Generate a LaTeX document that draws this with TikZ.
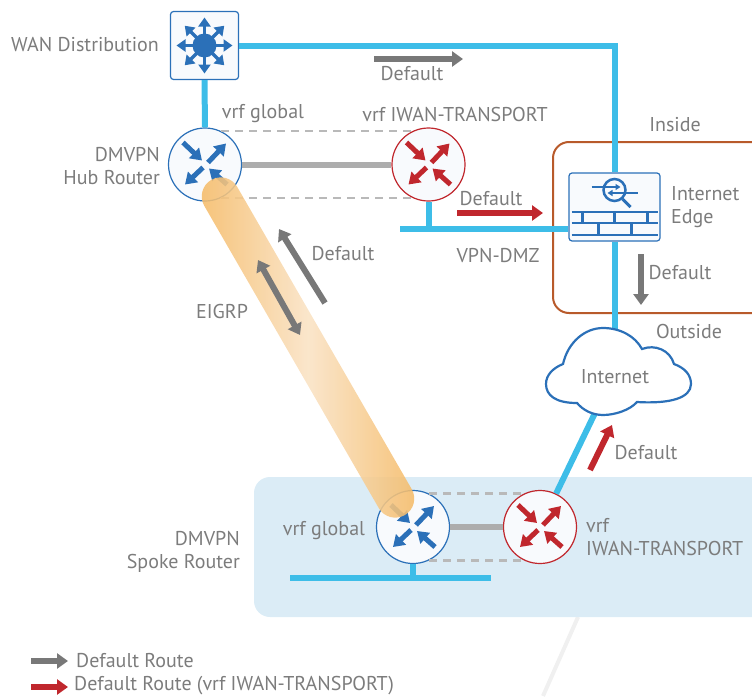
\documentclass[tikz,border=0pt]{standalone}
\usepackage{fontspec}
\setmainfont{PT Sans}
\usetikzlibrary{arrows.meta}
\definecolor{iconblue}{HTML}{2B70B8}
\definecolor{iconred}{HTML}{C0272D}
\definecolor{cablecol}{HTML}{3DBDE8}
\definecolor{linkgray}{HTML}{ADADAD}
\definecolor{routegray}{HTML}{787878}
\definecolor{txtgray}{HTML}{7C7C7C}
\definecolor{edgebrown}{HTML}{B85A2B}
\definecolor{areablue}{HTML}{DBECF6}
\definecolor{iconbg}{HTML}{F8FAFD}
\definecolor{tubeedge}{HTML}{F5B963}
\definecolor{tubemid}{HTML}{F9E2C4}
\begin{document}
\begin{tikzpicture}[x=1pt,y=-1pt,
        txt/.style={font=\fontsize{20}{23}\selectfont,text=txtgray,inner sep=0pt},
        router/.style={circle,draw,line width=1.2pt,fill=iconbg,minimum size=73pt,inner sep=0pt},
        box/.style={draw=iconblue,line width=1.2pt,fill=iconbg,rounded corners=3pt,inner sep=0pt},
        cable/.style={draw=cablecol,line width=6pt},
        link/.style={draw=linkgray,line width=6pt},
        dash link/.style={draw=linkgray!85,line width=2.6pt,dash pattern=on 8pt off 6pt},
        route/.style={-{Triangle[length=11pt,width=15pt]},line width=6pt,draw=routegray},
        route red/.style={route,draw=iconred},
        icon arrow/.style={-{Triangle[length=11pt,width=14pt]},line width=5pt},
        router icon/.pic={
            \draw[icon arrow] (-22,-22) -- (-3,-4);
            \draw[icon arrow] (3,-2) -- (21,-21);
            \draw[icon arrow] (-2,3) -- (-20,20);
            \draw[icon arrow] (22,20) -- (4,4);
        },
        wan icon/.pic={
            \fill[iconblue] (0,0) circle (12);
            \foreach \a in {0,45,...,315}
                \draw[iconblue,-{Triangle[length=9pt,width=12pt]},line width=3.5pt] (\a:8) -- (\a:28);
        },
        wall icon/.pic={
            \begin{scope}[draw=iconblue,line width=2.5pt]
                \foreach \y in {5,16,28}
                    \draw (-43,\y) -- (43,\y);
                \foreach \x in {-32,0,33}
                    \draw (\x,5) -- (\x,16);
                \foreach \x in {-16,17}
                    \draw (\x,16) -- (\x,28);
                \draw (0,-17) circle (11);
                \draw[line width=3pt] (8,-8) -- (16,0);
                \draw[-{Triangle[length=5pt,width=6pt]}] (-23,-20) -- (6,-20);
                \draw[-{Triangle[length=5pt,width=6pt]}] (23,-14) -- (-7,-14);
            \end{scope}
        }]

    \useasboundingbox (0,0) rectangle (752,696);

    \coordinate (farA) at (578,617);
    \coordinate (farB) at (543,696);
    \draw[draw=black!6,line width=4pt] (farA) -- (farB);

    \node[fill=areablue,rounded corners=16pt,minimum width=530pt,minimum height=140pt] (spoke area) at (519,547) {};
    \node[draw=edgebrown,line width=2pt,rounded corners=16pt,minimum width=240pt,minimum height=171pt] (inside) at (673,227.5) {};

    \node[box,minimum width=68pt,minimum height=68pt] (wan) at (204.5,45.5) {};
    \node[router,draw=iconblue] (hub) at (205,164.5) {};
    \node[router,draw=iconred] (hubred) at (428.5,164.5) {};
    \node[box,minimum width=91pt,minimum height=68pt] (wall) at (614.5,207) {};
    \node[router,draw=iconblue] (spoke) at (413,527) {};
    \node[router,draw=iconred] (spokered) at (540,527) {};

    \coordinate (dmzleft) at (400,229);
    \coordinate (cloudtop) at (614.5,330);
    \coordinate (cloudbot) at (595,413);
    \coordinate (barleft) at (290,578);
    \coordinate (barright) at (491,578);

    \draw[cable] (wan) -- (hub);
    \draw[cable] (wan.east) -| (wall.north);
    \draw[cable] (wall) -- (cloudtop);
    \draw[cable] (dmzleft) -- (dmzleft -| wall.west);
    \draw[cable] (hubred) -- (hubred |- dmzleft);
    \draw[cable] (cloudbot) -- (spokered);
    \draw[cable] (barleft) -- (barright);
    \draw[cable] (spoke) -- (spoke |- barleft);

    \draw[link] (hub) -- (hubred);
    \draw[link] (spoke) -- (spokered);
    \draw[dash link] (hub.64) -- (hubred.116);
    \draw[dash link] (hub.-64) -- (hubred.-116);
    \draw[dash link] (spoke.64) -- (spokered.116);
    \draw[dash link] (spoke.-64) -- (spokered.-116);

    \pic[color=iconblue] at (wan) {wan icon};
    \pic[color=iconblue] at (hub) {router icon};
    \pic[color=iconred] at (hubred) {router icon};
    \pic[color=iconblue] at (spoke) {router icon};
    \pic[color=iconred] at (spokered) {router icon};
    \pic at (wall) {wall icon};

    \draw[draw=iconblue,line width=2.2pt,fill=white]
        (563,364) .. controls (568,342) and (585,328) .. (603,328)
        .. controls (620,328) and (635,336) .. (642,349)
        .. controls (655,344) and (670,350) .. (674,364)
        .. controls (685,368) and (691,375) .. (691,384)
        .. controls (691,398) and (670,404) .. (637,402)
        .. controls (630,410) and (615,415) .. (603,415)
        .. controls (592,415) and (583,410) .. (577,403)
        .. controls (555,403) and (546,395) .. (546,384)
        .. controls (546,375) and (553,368) .. (563,364) -- cycle;

    \node[rounded corners=19pt,minimum width=387pt,minimum height=38pt,inner sep=0pt,rotate=-60,
        left color=tubeedge,right color=tubeedge,middle color=tubemid,fill opacity=.88] (eigrp tube) at (308,347.5) {};

    \coordinate (r1a) at (374,59);
    \coordinate (r1b) at (463,59);
    \coordinate (r2a) at (325,303);
    \coordinate (r2b) at (279,229);
    \coordinate (r3a) at (300,335);
    \coordinate (r3b) at (258,260);
    \coordinate (r4a) at (457,213);
    \coordinate (r4b) at (543,213);
    \coordinate (r5a) at (641,254);
    \coordinate (r5b) at (641,305);
    \coordinate (r6a) at (590,470);
    \coordinate (r6b) at (612,425);
    \coordinate (k1a) at (31,661);
    \coordinate (k1b) at (68,661);
    \coordinate (k2a) at (31,687);
    \coordinate (k2b) at (68,687);

    \draw[route] (r1a) -- (r1b);
    \draw[route] (r2a) -- (r2b);
    \draw[route,{Triangle[length=11pt,width=15pt]}-{Triangle[length=11pt,width=15pt]}] (r3a) -- (r3b);
    \draw[route red] (r4a) -- (r4b);
    \draw[route] (r5a) -- (r5b);
    \draw[route red] (r6a) -- (r6b);
    \draw[route] (k1a) -- (k1b);
    \draw[route red] (k2a) -- (k2b);

    \node[txt,anchor=east] (wan txt) at (159,45) {WAN Distribution};
    \node[txt,anchor=east,align=right] (hub txt) at (160,166) {DMVPN\\Hub Router};
    \node[txt] (hub global) at (263,114) {vrf global};
    \node[txt] (hub iwan) at (455,114) {vrf IWAN-TRANSPORT};
    \node[txt] (d1) at (412,74) {Default};
    \node[txt] (d2) at (343,254) {Default};
    \node[txt] (d3) at (491,199) {Default};
    \node[txt] (d4) at (680,273) {Default};
    \node[txt] (d5) at (646,453) {Default};
    \node[txt] (inside txt) at (675,125) {Inside};
    \node[txt] (outside txt) at (689,331) {Outside};
    \node[txt,anchor=west,align=left] (edge txt) at (671,207) {Internet\\Edge};
    \node[txt] (dmz txt) at (498,255) {VPN-DMZ};
    \node[txt] (internet) at (615,377) {Internet};
    \node[txt] (eigrp txt) at (222,311) {EIGRP};
    \node[txt,anchor=east,align=right] (spoke txt) at (240,552) {DMVPN\\Spoke Router};
    \node[txt] (spoke global) at (324,531) {vrf global};
    \node[txt,anchor=west,align=left] (spoke iwan) at (586,537) {vrf\\IWAN-TRANSPORT};
    \node[txt,anchor=west] (key grey) at (76,661) {Default Route};
    \node[txt,anchor=west] (key red) at (74,686) {Default Route (vrf IWAN-TRANSPORT)};

\end{tikzpicture}
\end{document}
